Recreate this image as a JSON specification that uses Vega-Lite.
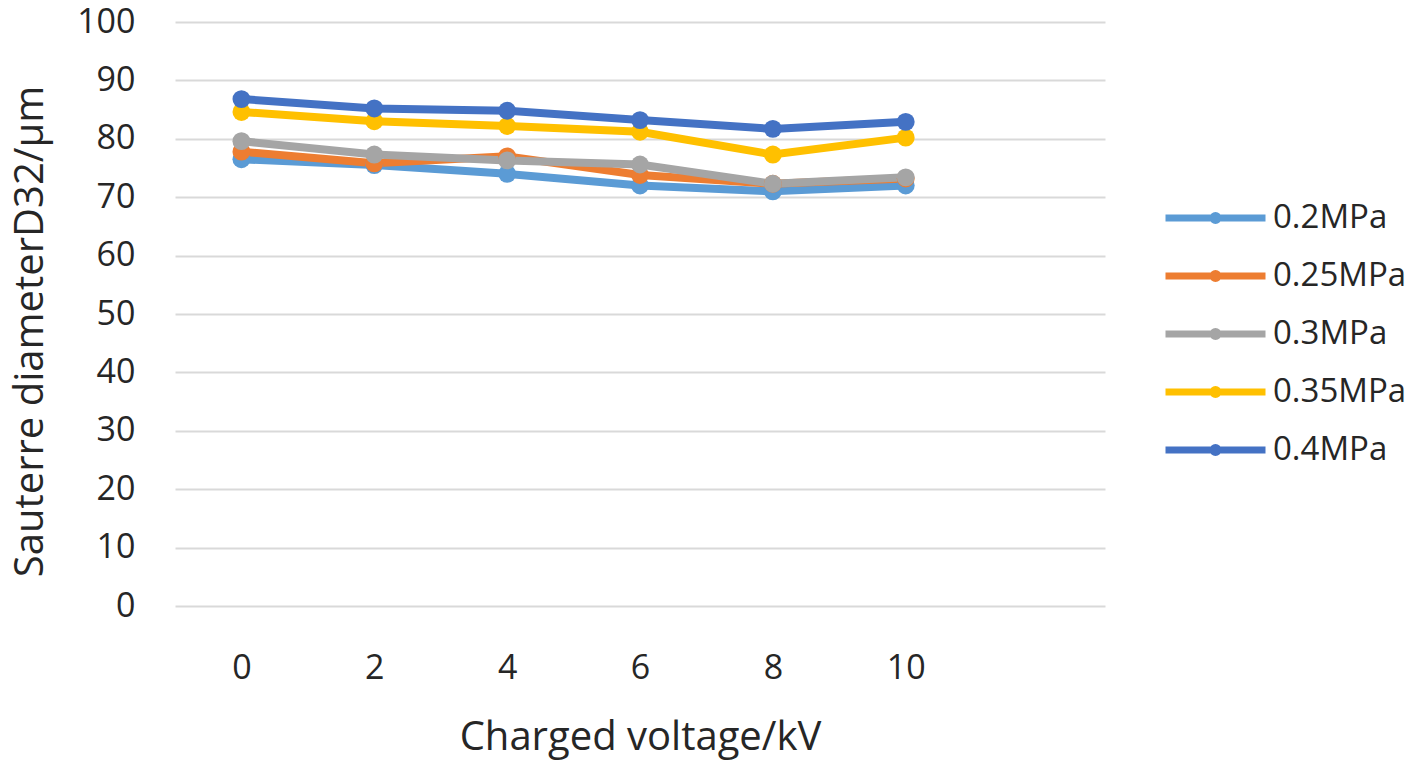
{
  "$schema": "https://vega.github.io/schema/vega-lite/v6.json",
  "autosize": "none",
  "width": 930,
  "height": 584,
  "padding": {"left": 175, "top": 22, "right": 313, "bottom": 158},
  "background": "white",
  "data": {
    "values": [
      {"kV": 0, "D32": 76.5, "series": "0.2MPa"},
      {"kV": 2, "D32": 75.5, "series": "0.2MPa"},
      {"kV": 4, "D32": 74.0, "series": "0.2MPa"},
      {"kV": 6, "D32": 72.0, "series": "0.2MPa"},
      {"kV": 8, "D32": 71.0, "series": "0.2MPa"},
      {"kV": 10, "D32": 72.0, "series": "0.2MPa"},
      {"kV": 0, "D32": 77.8, "series": "0.25MPa"},
      {"kV": 2, "D32": 75.8, "series": "0.25MPa"},
      {"kV": 4, "D32": 77.0, "series": "0.25MPa"},
      {"kV": 6, "D32": 73.8, "series": "0.25MPa"},
      {"kV": 8, "D32": 72.3, "series": "0.25MPa"},
      {"kV": 10, "D32": 73.2, "series": "0.25MPa"},
      {"kV": 0, "D32": 79.6, "series": "0.3MPa"},
      {"kV": 2, "D32": 77.3, "series": "0.3MPa"},
      {"kV": 4, "D32": 76.3, "series": "0.3MPa"},
      {"kV": 6, "D32": 75.6, "series": "0.3MPa"},
      {"kV": 8, "D32": 72.3, "series": "0.3MPa"},
      {"kV": 10, "D32": 73.4, "series": "0.3MPa"},
      {"kV": 0, "D32": 84.6, "series": "0.35MPa"},
      {"kV": 2, "D32": 83.0, "series": "0.35MPa"},
      {"kV": 4, "D32": 82.2, "series": "0.35MPa"},
      {"kV": 6, "D32": 81.2, "series": "0.35MPa"},
      {"kV": 8, "D32": 77.3, "series": "0.35MPa"},
      {"kV": 10, "D32": 80.2, "series": "0.35MPa"},
      {"kV": 0, "D32": 86.8, "series": "0.4MPa"},
      {"kV": 2, "D32": 85.2, "series": "0.4MPa"},
      {"kV": 4, "D32": 84.8, "series": "0.4MPa"},
      {"kV": 6, "D32": 83.2, "series": "0.4MPa"},
      {"kV": 8, "D32": 81.7, "series": "0.4MPa"},
      {"kV": 10, "D32": 82.9, "series": "0.4MPa"}
    ]
  },
  "mark": {
    "type": "line",
    "strokeWidth": 8,
    "point": {"filled": true, "size": 320, "opacity": 1}
  },
  "encoding": {
    "x": {
      "field": "kV",
      "type": "quantitative",
      "title": "Charged voltage/kV",
      "scale": {"domain": [-1, 13], "nice": false, "zero": false},
      "axis": {
        "values": [0, 2, 4, 6, 8, 10],
        "grid": false,
        "domain": false,
        "ticks": false,
        "labelPadding": 45,
        "titlePadding": 32
      }
    },
    "y": {
      "field": "D32",
      "type": "quantitative",
      "title": "Sauterre diameterD32/μm",
      "scale": {"domain": [0, 100], "nice": false},
      "axis": {
        "values": [0, 10, 20, 30, 40, 50, 60, 70, 80, 90, 100],
        "domain": false,
        "ticks": false,
        "labelPadding": 40,
        "titlePadding": 26,
        "titleY": 309
      }
    },
    "color": {
      "field": "series",
      "type": "nominal",
      "title": null,
      "scale": {
        "domain": ["0.2MPa", "0.25MPa", "0.3MPa", "0.35MPa", "0.4MPa"],
        "range": ["#5B9BD5", "#ED7D31", "#A5A5A5", "#FFC000", "#4472C4"]
      },
      "legend": {
        "orient": "none",
        "legendX": 987,
        "legendY": 167,
        "symbolType": "M-1,0L1,0M-0.05,0A0.05,0.05 0 1,0 0.05,0A0.05,0.05 0 1,0 -0.05,0",
        "symbolSize": 10000,
        "symbolStrokeWidth": 7,
        "clipHeight": 58,
        "rowPadding": 0,
        "labelOffset": 4,
        "labelFontSize": 33,
        "labelFont": "Open Sans",
        "labelColor": "#262626",
        "labelLimit": 300
      }
    }
  },
  "config": {
    "font": "Open Sans",
    "view": {"stroke": null},
    "axis": {
      "labelFont": "Open Sans",
      "titleFont": "Open Sans",
      "labelFontSize": 34,
      "titleFontSize": 40,
      "titleFontWeight": "normal",
      "labelColor": "#262626",
      "titleColor": "#262626",
      "gridColor": "#d9d9d9",
      "gridWidth": 2
    },
    "legend": {"symbolLimit": 0}
  }
}
